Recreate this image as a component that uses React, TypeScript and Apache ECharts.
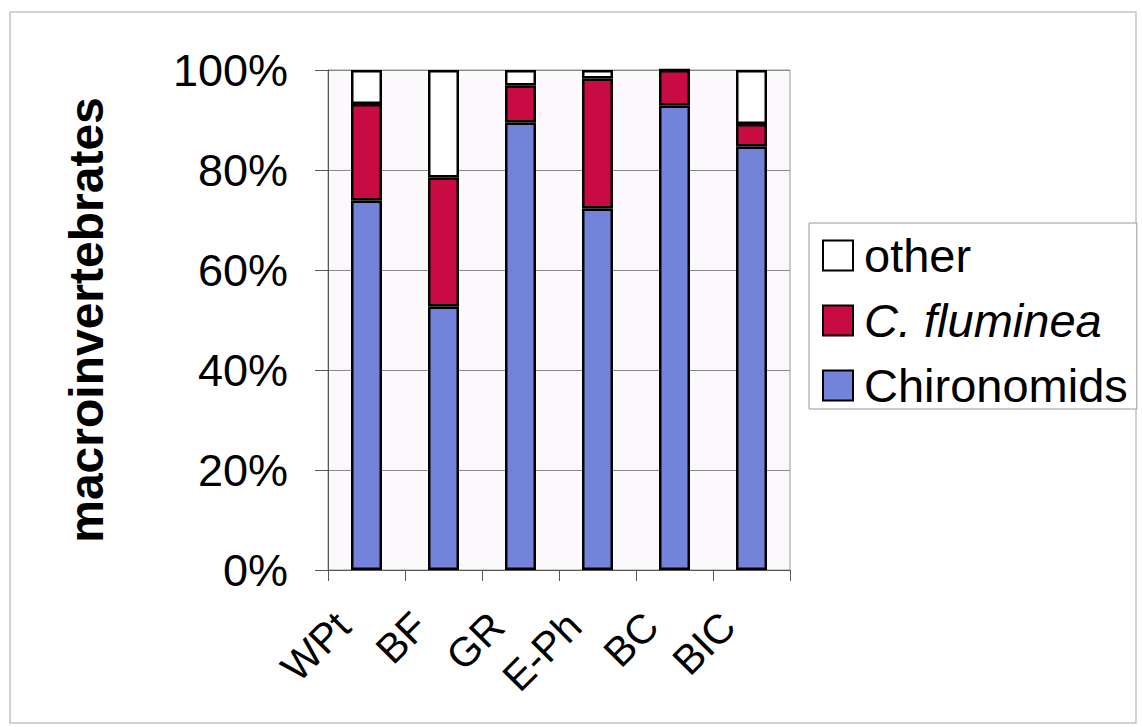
import React, { useEffect, useRef } from "react";
import * as echarts from "echarts";

// Share of macroinvertebrate groups per sampling site (percent)
const sites = ["WPt", "BF", "GR", "E-Ph", "BC", "BIC"];
const chironomids = [73.9, 52.7, 89.5, 72.3, 92.9, 84.7];
const fluminea = [19.3, 25.8, 7.4, 26.0, 7.1, 4.5];
const other = [6.8, 21.5, 3.1, 1.7, 0, 10.8];
const legendOrder = ["other", "C. fluminea", "Chironomids"];

const FONT = 'Arial, "Liberation Sans", sans-serif';

export default function App() {
  const ref = useRef<HTMLDivElement>(null);

  useEffect(() => {
    if (!ref.current) return;
    const chart = echarts.init(ref.current, null, { renderer: "svg" });

    const barBorder = { borderColor: "#000", borderWidth: 2.5 };

    chart.setOption({
      animation: false,
      backgroundColor: "#fff",
      textStyle: { fontFamily: FONT },
      graphic: [
        {
          type: "rect",
          shape: { x: 10, y: 12, width: 1126, height: 711 },
          style: { fill: "none", stroke: "#c4c4c4", lineWidth: 1.5 },
          silent: true,
        },
      ],
      grid: {
        left: 328,
        right: 352,
        top: 70,
        bottom: 157,
        show: true,
        borderColor: "#9a9a9a",
        borderWidth: 1,
        backgroundColor: "#fbf9fb",
      },
      legend: {
        orient: "vertical",
        left: 809,
        top: 223,
        data: legendOrder,
        icon: "rect",
        itemWidth: 30,
        itemHeight: 30,
        itemGap: 18,
        padding: [9, 9, 0, 13],
        borderColor: "#9a9a9a",
        borderWidth: 1,
        backgroundColor: "#fff",
        formatter: (name: string) =>
          name === "C. fluminea" ? `{i|${name}}` : name,
        textStyle: {
          fontSize: 47,
          color: "#000",
          fontFamily: FONT,
          padding: [0, 0, 0, 6],
          rich: {
            i: {
              fontStyle: "italic",
              fontSize: 47,
              color: "#000",
              fontFamily: FONT,
            },
          },
        },
      },
      xAxis: {
        type: "category",
        data: sites,
        axisLine: { show: true, lineStyle: { color: "#555", width: 1 } },
        axisTick: { show: true, length: 11, lineStyle: { color: "#555" } },
        axisLabel: {
          interval: 0,
          rotate: 45,
          fontSize: 41,
          color: "#000",
          fontFamily: FONT,
          margin: 26,
          padding: [0, 33, 0, 0],
        },
      },
      yAxis: {
        type: "value",
        min: 0,
        max: 100,
        interval: 20,
        name: "macroinvertebrates",
        nameLocation: "middle",
        nameGap: 218,
        nameTextStyle: {
          fontSize: 48,
          fontWeight: "bold",
          color: "#000",
          fontFamily: FONT,
        },
        axisLine: { show: true, lineStyle: { color: "#555", width: 1 } },
        axisTick: { show: true, length: 13, lineStyle: { color: "#555" } },
        splitLine: { show: true, lineStyle: { color: "#8a8a8a", width: 1 } },
        axisLabel: {
          formatter: "{value}%",
          fontSize: 45,
          color: "#000",
          fontFamily: FONT,
          margin: 40,
        },
      },
      series: [
        {
          name: "Chironomids",
          type: "bar",
          stack: "total",
          barWidth: 31,
          data: chironomids,
          itemStyle: { color: "#7383d9", ...barBorder },
        },
        {
          name: "C. fluminea",
          type: "bar",
          stack: "total",
          barWidth: 31,
          data: fluminea,
          itemStyle: { color: "#c80c43", ...barBorder },
        },
        {
          name: "other",
          type: "bar",
          stack: "total",
          barWidth: 31,
          data: other,
          itemStyle: { color: "#ffffff", ...barBorder },
        },
      ],
    });

    return () => chart.dispose();
  }, []);

  return (
    <div
      ref={ref}
      style={{
        position: "fixed",
        left: 0,
        top: 0,
        width: 1142,
        height: 727,
        background: "#fff",
      }}
    />
  );
}
